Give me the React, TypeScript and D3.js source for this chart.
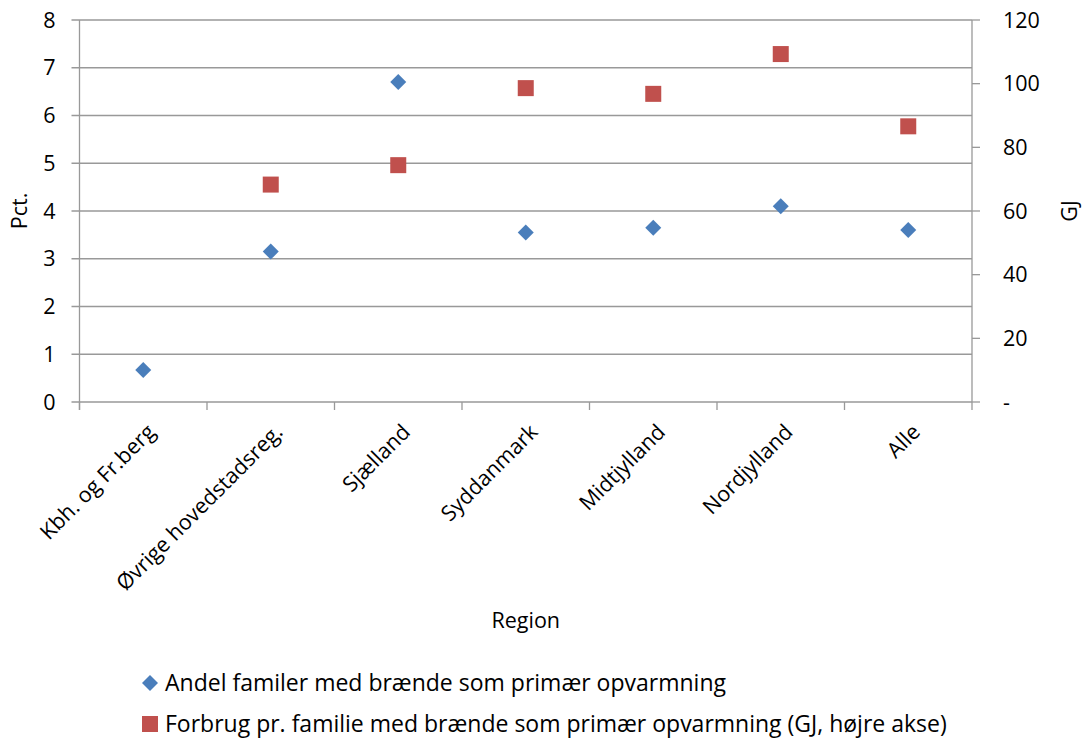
import React from 'react'
import * as d3 from 'd3'

const categories = [
  'Kbh. og Fr.berg',
  'Øvrige hovedstadsreg.',
  'Sjælland',
  'Syddanmark',
  'Midtjylland',
  'Nordjylland',
  'Alle',
]
// Andel familier (pct., venstre akse)
const shareValues = [0.67, 3.15, 6.7, 3.55, 3.65, 4.1, 3.6]
// Forbrug pr. familie (GJ, højre akse); ingen værdi for Kbh.
const useValues: (number | null)[] = [null, 68.3, 74.4, 98.6, 96.8, 109.3, 86.6]
const leftTicks = [0, 1, 2, 3, 4, 5, 6, 7, 8]
const rightTicks = [0, 20, 40, 60, 80, 100, 120]
const legendLabels = [
  'Andel familer med brænde som primær opvarmning',
  'Forbrug pr. familie med brænde som primær opvarmning (GJ, højre akse)',
]

const W = 1085
const H = 739
const margin = { top: 20, right: 113, bottom: 337, left: 79.5 }
const font = "'Open Sans', 'Liberation Sans', sans-serif"
const blue = '#4a7ebb'
const red = '#c0504d'
const gridColor = '#999'
const fs = 21.5

const App: React.FC = () => {
  const x = d3
    .scaleBand()
    .domain(categories)
    .range([margin.left, W - margin.right])
  const yL = d3.scaleLinear().domain([0, 8]).range([H - margin.bottom, margin.top])
  const yR = d3.scaleLinear().domain([0, 120]).range([H - margin.bottom, margin.top])
  const x0 = margin.left
  const x1 = W - margin.right
  const yB = H - margin.bottom
  const cx = (c: string) => (x(c) ?? 0) + x.bandwidth() / 2

  return (
    <svg width={W} height={H} style={{ display: 'block', position: 'absolute', left: 0, top: 0 }} fontFamily={font}>
      {/* grid lines + left ticks */}
      {leftTicks.map((t) => (
        <g key={'l' + t}>
          <line x1={x0 - 8} x2={x1} y1={yL(t)} y2={yL(t)} stroke={gridColor} strokeWidth={1.3} />
          <text x={x0 - 24} y={yL(t)} dy="0.35em" textAnchor="end" fontSize={fs} fill="#000">
            {t}
          </text>
        </g>
      ))}
      {/* left axis */}
      <line x1={x0} x2={x0} y1={margin.top} y2={yB + 8} stroke={gridColor} strokeWidth={1.3} />
      {/* right axis */}
      <line x1={x1} x2={x1} y1={margin.top} y2={yB + 8} stroke={gridColor} strokeWidth={1.3} />
      {rightTicks.map((t) => (
        <g key={'r' + t}>
          <line x1={x1} x2={x1 + 8} y1={yR(t)} y2={yR(t)} stroke={gridColor} strokeWidth={1.3} />
          <text x={x1 + 31} y={yR(t)} dy="0.35em" textAnchor="start" fontSize={fs} fill="#000">
            {t === 0 ? '-' : t}
          </text>
        </g>
      ))}
      {/* x ticks at category boundaries */}
      {categories.map((c) => (
        <line key={'xt' + c} x1={x(c)} x2={x(c)} y1={yB} y2={yB + 8} stroke={gridColor} strokeWidth={1.3} />
      ))}
      {/* category labels */}
      {categories.map((c) => (
        <text
          key={'xl' + c}
          transform={`translate(${cx(c) + 8},${yB + 26}) rotate(-45)`}
          textAnchor="end"
          dy="0.35em"
          fontSize={fs}
          fill="#000"
        >
          {c}
        </text>
      ))}
      {/* axis titles */}
      <text transform={`translate(27,${(margin.top + yB) / 2}) rotate(-90)`} textAnchor="middle" fontSize={fs}>
        Pct.
      </text>
      <text transform={`translate(1077,${(margin.top + yB) / 2}) rotate(-90)`} textAnchor="middle" fontSize={fs}>
        GJ
      </text>
      <text x={(x0 + x1) / 2} y={628} textAnchor="middle" fontSize={fs}>
        Region
      </text>
      {/* red squares */}
      {categories.map((c, i) => {
        const v = useValues[i]
        if (v == null) return null
        return <rect key={'r' + c} x={cx(c) - 8} y={yR(v) - 8} width={16} height={16} fill={red} />
      })}
      {/* blue diamonds */}
      {categories.map((c, i) => (
        <path
          key={'b' + c}
          d={`M${cx(c)},${yL(shareValues[i]) - 8}l8,8l-8,8l-8,-8z`}
          fill={blue}
        />
      ))}
      {/* legend */}
      <path d={`M150,675l8,8l-8,8l-8,-8z`} fill={blue} />
      <text x={165} y={683} dy="0.35em" fontSize={23}>
        {legendLabels[0]}
      </text>
      <rect x={142} y={716} width={16} height={16} fill={red} />
      <text x={165} y={724} dy="0.35em" fontSize={23}>
        {legendLabels[1]}
      </text>
    </svg>
  )
}

export default App
